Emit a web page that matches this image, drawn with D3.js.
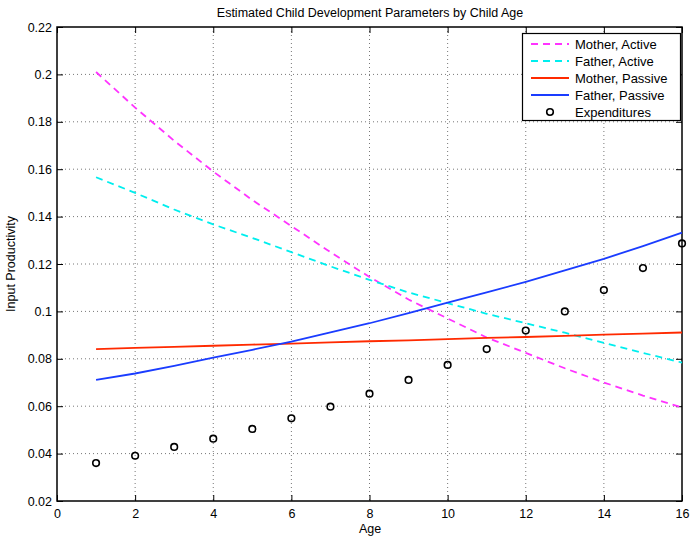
<!DOCTYPE html>
<html><head><meta charset="utf-8">
<script src="https://cdn.jsdelivr.net/npm/d3@7"></script>
<style>body{margin:0;background:#fff}svg{display:block;font-family:"Liberation Sans",Arial,Helvetica,sans-serif}</style>
</head><body><svg id="c" width="691" height="537"></svg>
<script>
const ages = [1,2,3,4,5,6,7,8,9,10,11,12,13,14,15,16];
const motherActive = [0.201,0.186,0.172,0.159,0.147,0.136,0.125,0.1145,0.105,0.097,0.089,0.0825,0.076,0.070,0.0645,0.0595];
const fatherActive = [0.1566,0.150,0.143,0.1367,0.131,0.125,0.119,0.1133,0.108,0.1035,0.099,0.095,0.091,0.0867,0.0825,0.0784];
const motherPassive = [0.0841,0.0846,0.0850,0.0855,0.0860,0.0864,0.0869,0.0874,0.0878,0.0883,0.0888,0.0892,0.0897,0.0902,0.0906,0.0911];
const fatherPassive = [0.0711,0.0738,0.0770,0.0805,0.0838,0.0872,0.0912,0.0950,0.0993,0.1037,0.1080,0.1125,0.1173,0.1222,0.1275,0.1332];
const expenditures = [0.0360,0.0391,0.0428,0.0463,0.0504,0.0549,0.0598,0.0653,0.0711,0.0774,0.0841,0.0919,0.1000,0.1090,0.1183,0.1287];
const xTicks = [0,2,4,6,8,10,12,14,16];
const yTicks = [0.02,0.04,0.06,0.08,0.1,0.12,0.14,0.16,0.18,0.2,0.22];
const seriesNames = ["Mother, Active","Father, Active","Mother, Passive","Father, Passive","Expenditures"];

const svg = d3.select("#c");
const L=57, R=682, T=27, B=501;
const x = d3.scaleLinear().domain([0,16]).range([L,R]);
const y = d3.scaleLinear().domain([0.02,0.22]).range([B,T]);
const fmt = d => String(+d.toFixed(2));

// grid
const g = svg.append("g");
g.selectAll(".gx").data(xTicks.slice(1,-1)).enter().append("line")
 .attr("x1",d=>x(d)).attr("x2",d=>x(d)).attr("y1",T).attr("y2",B)
 .attr("stroke","#777").attr("stroke-width",1).attr("stroke-dasharray","1,3");
g.selectAll(".gy").data(yTicks.slice(1,-1)).enter().append("line")
 .attr("y1",d=>y(d)).attr("y2",d=>y(d)).attr("x1",L).attr("x2",R)
 .attr("stroke","#777").attr("stroke-width",1).attr("stroke-dasharray","1,3");

// axes
const ax = d3.axisBottom(x).tickValues(xTicks).tickSize(-6).tickPadding(8).tickFormat(fmt);
const ay = d3.axisLeft(y).tickValues(yTicks).tickSize(-6).tickPadding(5).tickFormat(fmt);
const axT = d3.axisTop(x).tickValues(xTicks).tickSize(-6).tickFormat("");
const ayR = d3.axisRight(y).tickValues(yTicks).tickSize(-6).tickFormat("");
function style(sel){sel.select(".domain").remove();sel.selectAll("line").attr("stroke","#000");sel.selectAll("text").attr("fill","#000").style("font-size","12.5px").style("font-family","'Liberation Sans',Arial,sans-serif");}
svg.append("g").attr("transform",`translate(0,${B})`).call(ax).call(style);
svg.append("g").attr("transform",`translate(${L},0)`).call(ay).call(style);
svg.append("g").attr("transform",`translate(0,${T})`).call(axT).call(style);
svg.append("g").attr("transform",`translate(${R},0)`).call(ayR).call(style);
svg.append("rect").attr("x",L).attr("y",T).attr("width",R-L).attr("height",B-T)
 .attr("fill","none").attr("stroke","#000").attr("stroke-width",1.5);

// lines
const line = d3.line().x((d,i)=>x(ages[i])).y(d=>y(d));
const series = [
 {v:motherActive,c:"#ff33ff",dash:"7,5"},
 {v:fatherActive,c:"#00eeee",dash:"7,5"},
 {v:motherPassive,c:"#ff2a00",dash:null},
 {v:fatherPassive,c:"#1a3cff",dash:null}
];
series.forEach(s=>{
 svg.append("path").datum(s.v).attr("d",line).attr("fill","none")
  .attr("stroke",s.c).attr("stroke-width",1.8).attr("stroke-dasharray",s.dash);
});
svg.selectAll(".pt").data(expenditures).enter().append("circle")
 .attr("cx",(d,i)=>x(ages[i])).attr("cy",d=>y(d)).attr("r",3.3)
 .attr("fill","none").attr("stroke","#000").attr("stroke-width",1.6);

// title & labels
svg.append("text").attr("x",370).attr("y",17).attr("text-anchor","middle")
 .style("font-size","12.5px").text("Estimated Child Development Parameters by Child Age");
svg.append("text").attr("x",370).attr("y",533).attr("text-anchor","middle")
 .style("font-size","12.5px").text("Age");
svg.append("text").attr("transform","translate(15,264) rotate(-90)").attr("text-anchor","middle")
 .style("font-size","12.5px").text("Input Productivity");

// legend
const lg = svg.append("g");
lg.append("rect").attr("x",522.5).attr("y",33.5).attr("width",158).attr("height",87)
 .attr("fill","#fff").attr("stroke","#000").attr("stroke-width",1.2);
seriesNames.forEach((n,i)=>{
 const yy = 44 + i*17;
 if(i<4){
  lg.append("line").attr("x1",531).attr("x2",569).attr("y1",yy).attr("y2",yy)
   .attr("stroke",series[i].c).attr("stroke-width",1.8).attr("stroke-dasharray",series[i].dash);
 } else {
  lg.append("circle").attr("cx",550).attr("cy",yy).attr("r",3.3).attr("fill","none")
   .attr("stroke","#000").attr("stroke-width",1.6);
 }
 lg.append("text").attr("x",575).attr("y",yy+4.5).style("font-size","13px").text(n);
});
</script></body></html>
